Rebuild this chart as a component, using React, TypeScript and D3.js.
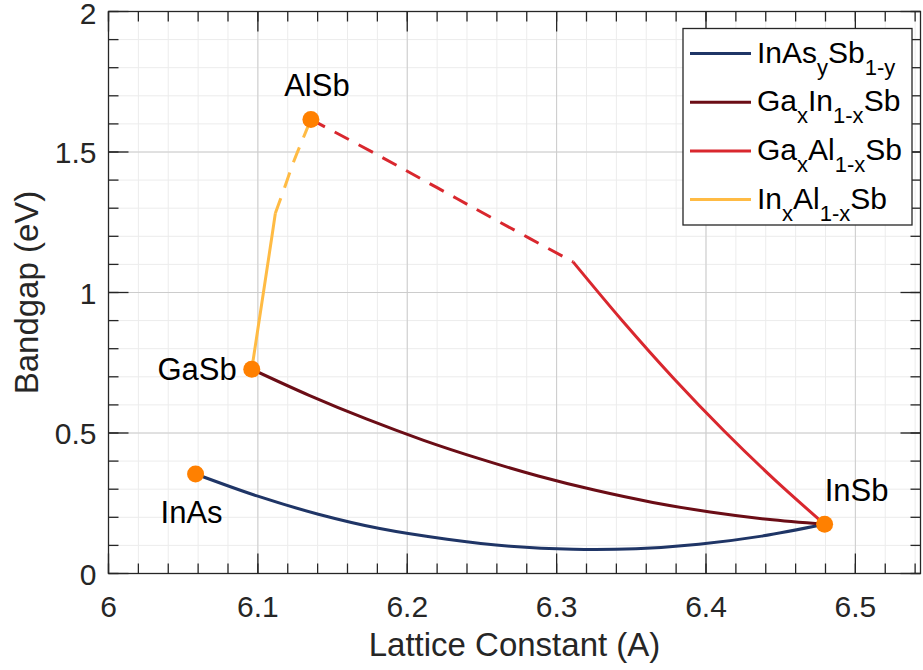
import React from "react";
import * as d3 from "d3";

// ---------- data ----------
const compoundNames = ["InAs", "GaSb", "AlSb", "InSb"];
const compoundLattice = [6.0583, 6.0959, 6.1355, 6.4794];
const compoundGap = [0.354, 0.727, 1.616, 0.175];

// InAs_y Sb_1-y
const inasSbLattice = [6.0583, 6.0994, 6.1405, 6.1816, 6.2267, 6.2689, 6.311, 6.3531, 6.3952, 6.4373, 6.4794];
const inasSbGap = [0.354, 0.276, 0.211, 0.16, 0.122, 0.097, 0.086, 0.088, 0.104, 0.133, 0.175];

// Ga_x In_1-x Sb
const gaInSbLattice = [6.0959, 6.1343, 6.1726, 6.211, 6.2493, 6.2877, 6.326, 6.3644, 6.4027, 6.4411, 6.4794];
const gaInSbGap = [0.727, 0.634, 0.55, 0.474, 0.407, 0.347, 0.296, 0.253, 0.219, 0.193, 0.175];

// Ga_x Al_1-x Sb (dashed = indirect part, solid = direct part)
const gaAlSbDashLattice = [6.1355, 6.18, 6.22, 6.26, 6.311];
const gaAlSbDashGap = [1.616, 1.49, 1.373, 1.256, 1.109];
const gaAlSbSolidLattice = [6.311, 6.3447, 6.3784, 6.412, 6.4457, 6.4794];
const gaAlSbSolidGap = [1.109, 0.895, 0.694, 0.508, 0.335, 0.175];

// In_x Al_1-x Sb
const inAlSbSolidLattice = [6.0959, 6.1, 6.104, 6.108, 6.1117];
const inAlSbSolidGap = [0.727, 0.87, 1.01, 1.15, 1.282];
const inAlSbDashLattice = [6.1117, 6.118, 6.124, 6.13, 6.1355];
const inAlSbDashGap = [1.282, 1.375, 1.466, 1.545, 1.616];

const xTicks = [6, 6.1, 6.2, 6.3, 6.4, 6.5];
const xTickLabels = ["6", "6.1", "6.2", "6.3", "6.4", "6.5"];
const yTicks = [0, 0.5, 1, 1.5, 2];
const yTickLabels = ["0", "0.5", "1", "1.5", "2"];

const seriesColors = ["#1f3566", "#6b0d16", "#d9272e", "#ffbb44"];

// ---------- layout ----------
const W = 923;
const H = 670;
const left = 108.5;
const right = 920.5;
const top = 11.5;
const bottom = 573.5;
const FONT = "'Liberation Sans', Arial, Helvetica, sans-serif";
const AX = "#262626";

const x = d3.scaleLinear().domain([6, 6.5436]).range([left, right]);
const y = d3.scaleLinear().domain([0, 2]).range([bottom, top]);

const xMinor = d3.range(0, 28).map((i) => 6 + i * 0.02).filter((v) => v <= 6.5436);
const yMinor = d3.range(0, 21).map((i) => i * 0.1);

const lineGen = d3
  .line<[number, number]>()
  .x((d) => x(d[0]))
  .y((d) => y(d[1]))
  .curve(d3.curveCatmullRom.alpha(0.5));

const zip = (a: number[], b: number[]) => a.map((v, i) => [v, b[i]] as [number, number]);

export default function App() {
  const lw = 3;
  const dash = "16,11";
  const legendItems = [
    { color: seriesColors[0], parts: [["InAs", 0], ["y", 1], ["Sb", 0], ["1-y", 1]] },
    { color: seriesColors[1], parts: [["Ga", 0], ["x", 1], ["In", 0], ["1-x", 1], ["Sb", 0]] },
    { color: seriesColors[2], parts: [["Ga", 0], ["x", 1], ["Al", 0], ["1-x", 1], ["Sb", 0]] },
    { color: seriesColors[3], parts: [["In", 0], ["x", 1], ["Al", 0], ["1-x", 1], ["Sb", 0]] },
  ];
  const labelPos: Record<string, { dx: number; dy: number; anchor: string }> = {
    InAs: { dx: -4, dy: 49, anchor: "middle" },
    GaSb: { dx: -15, dy: 11, anchor: "end" },
    AlSb: { dx: 6, dy: -23, anchor: "middle" },
    InSb: { dx: 32, dy: -23, anchor: "middle" },
  };

  return (
    <svg
      width={W}
      height={H}
      style={{ position: "absolute", left: 0, top: 0, background: "#fff", fontFamily: FONT }}
    >
      <rect x={0} y={0} width={W} height={H} fill="#fff" />
      {/* minor grid */}
      <g stroke="#ececec" strokeWidth={1}>
        {xMinor.map((v, i) => (
          <line key={"xm" + i} x1={x(v)} x2={x(v)} y1={top} y2={bottom} />
        ))}
        {yMinor.map((v, i) => (
          <line key={"ym" + i} x1={left} x2={right} y1={y(v)} y2={y(v)} />
        ))}
      </g>
      {/* major grid */}
      <g stroke="#cccccc" strokeWidth={1}>
        {xTicks.map((v, i) => (
          <line key={"xg" + i} x1={x(v)} x2={x(v)} y1={top} y2={bottom} />
        ))}
        {yTicks.map((v, i) => (
          <line key={"yg" + i} x1={left} x2={right} y1={y(v)} y2={y(v)} />
        ))}
      </g>

      {/* curves */}
      <g fill="none" strokeWidth={lw}>
        <path d={lineGen(zip(inasSbLattice, inasSbGap)) || ""} stroke={seriesColors[0]} />
        <path d={lineGen(zip(gaInSbLattice, gaInSbGap)) || ""} stroke={seriesColors[1]} />
        <path d={lineGen(zip(gaAlSbDashLattice, gaAlSbDashGap)) || ""} stroke={seriesColors[2]} strokeDasharray={dash} />
        <path d={lineGen(zip(gaAlSbSolidLattice, gaAlSbSolidGap)) || ""} stroke={seriesColors[2]} />
        <path d={lineGen(zip(inAlSbSolidLattice, inAlSbSolidGap)) || ""} stroke={seriesColors[3]} />
        <path d={lineGen(zip(inAlSbDashLattice, inAlSbDashGap)) || ""} stroke={seriesColors[3]} strokeDasharray={dash} />
      </g>

      {/* compound points */}
      {compoundNames.map((n, i) => (
        <circle key={n} cx={x(compoundLattice[i])} cy={y(compoundGap[i])} r={8.5} fill="#ff8000" />
      ))}
      {compoundNames.map((n, i) => {
        const p = labelPos[n];
        return (
          <text
            key={"l" + n}
            x={x(compoundLattice[i]) + p.dx}
            y={y(compoundGap[i]) + p.dy}
            fontSize={31}
            textAnchor={p.anchor as any}
            fill="#000"
          >
            {n}
          </text>
        );
      })}

      {/* axes box */}
      <rect x={left} y={top} width={right - left} height={bottom - top} fill="none" stroke={AX} strokeWidth={1.3} />
      <g stroke={AX} strokeWidth={1.3}>
        {xMinor.map((v, i) => (
          <g key={"xt" + i}>
            <line x1={x(v)} x2={x(v)} y1={bottom} y2={bottom - 10} />
            <line x1={x(v)} x2={x(v)} y1={top} y2={top + 10} />
          </g>
        ))}
        {xTicks.map((v, i) => (
          <g key={"xT" + i}>
            <line x1={x(v)} x2={x(v)} y1={bottom} y2={bottom - 20} />
            <line x1={x(v)} x2={x(v)} y1={top} y2={top + 20} />
          </g>
        ))}
        {yMinor.map((v, i) => (
          <g key={"yt" + i}>
            <line x1={left} x2={left + 10} y1={y(v)} y2={y(v)} />
            <line x1={right} x2={right - 10} y1={y(v)} y2={y(v)} />
          </g>
        ))}
        {yTicks.map((v, i) => (
          <g key={"yT" + i}>
            <line x1={left} x2={left + 20} y1={y(v)} y2={y(v)} />
            <line x1={right} x2={right - 20} y1={y(v)} y2={y(v)} />
          </g>
        ))}
      </g>
      {/* tick labels */}
      <g fontSize={30} fill={AX}>
        {xTicks.map((v, i) => (
          <text key={"xl" + i} x={x(v)} y={bottom + 43} textAnchor="middle">
            {xTickLabels[i]}
          </text>
        ))}
        {yTicks.map((v, i) => (
          <text key={"yl" + i} x={left - 12} y={y(v) + 11 + (i === yTicks.length - 1 ? 1 : 0)} textAnchor="end">
            {yTickLabels[i]}
          </text>
        ))}
      </g>
      <text x={(left + right) / 2} y={656} fontSize={33} textAnchor="middle" fill={AX}>
        Lattice Constant (A)
      </text>
      <text
        transform={`translate(38,${(top + bottom) / 2}) rotate(-90)`}
        fontSize={33}
        textAnchor="middle"
        fill={AX}
      >
        Bandgap (eV)
      </text>

      {/* legend */}
      <rect x={683} y={28.5} width={229} height={196.5} fill="#fff" stroke={AX} strokeWidth={1.3} />
      {legendItems.map((it, i) => {
        const ry = 53.5 + i * 48.7;
        return (
          <g key={"lg" + i}>
            <line x1={690} x2={751} y1={ry} y2={ry} stroke={it.color} strokeWidth={lw} />
            <text x={757} y={ry + 9} fontSize={30} fill="#000">
              {it.parts.map((p, j) => {
                const isSub = p[1] === 1;
                const prevSub = j > 0 && it.parts[j - 1][1] === 1;
                const dy = isSub && !prevSub ? 12 : !isSub && prevSub ? -12 : 0;
                return (
                  <tspan key={j} dy={dy} fontSize={isSub ? 22 : 30}>
                    {p[0] as string}
                  </tspan>
                );
              })}
            </text>
          </g>
        );
      })}
    </svg>
  );
}
